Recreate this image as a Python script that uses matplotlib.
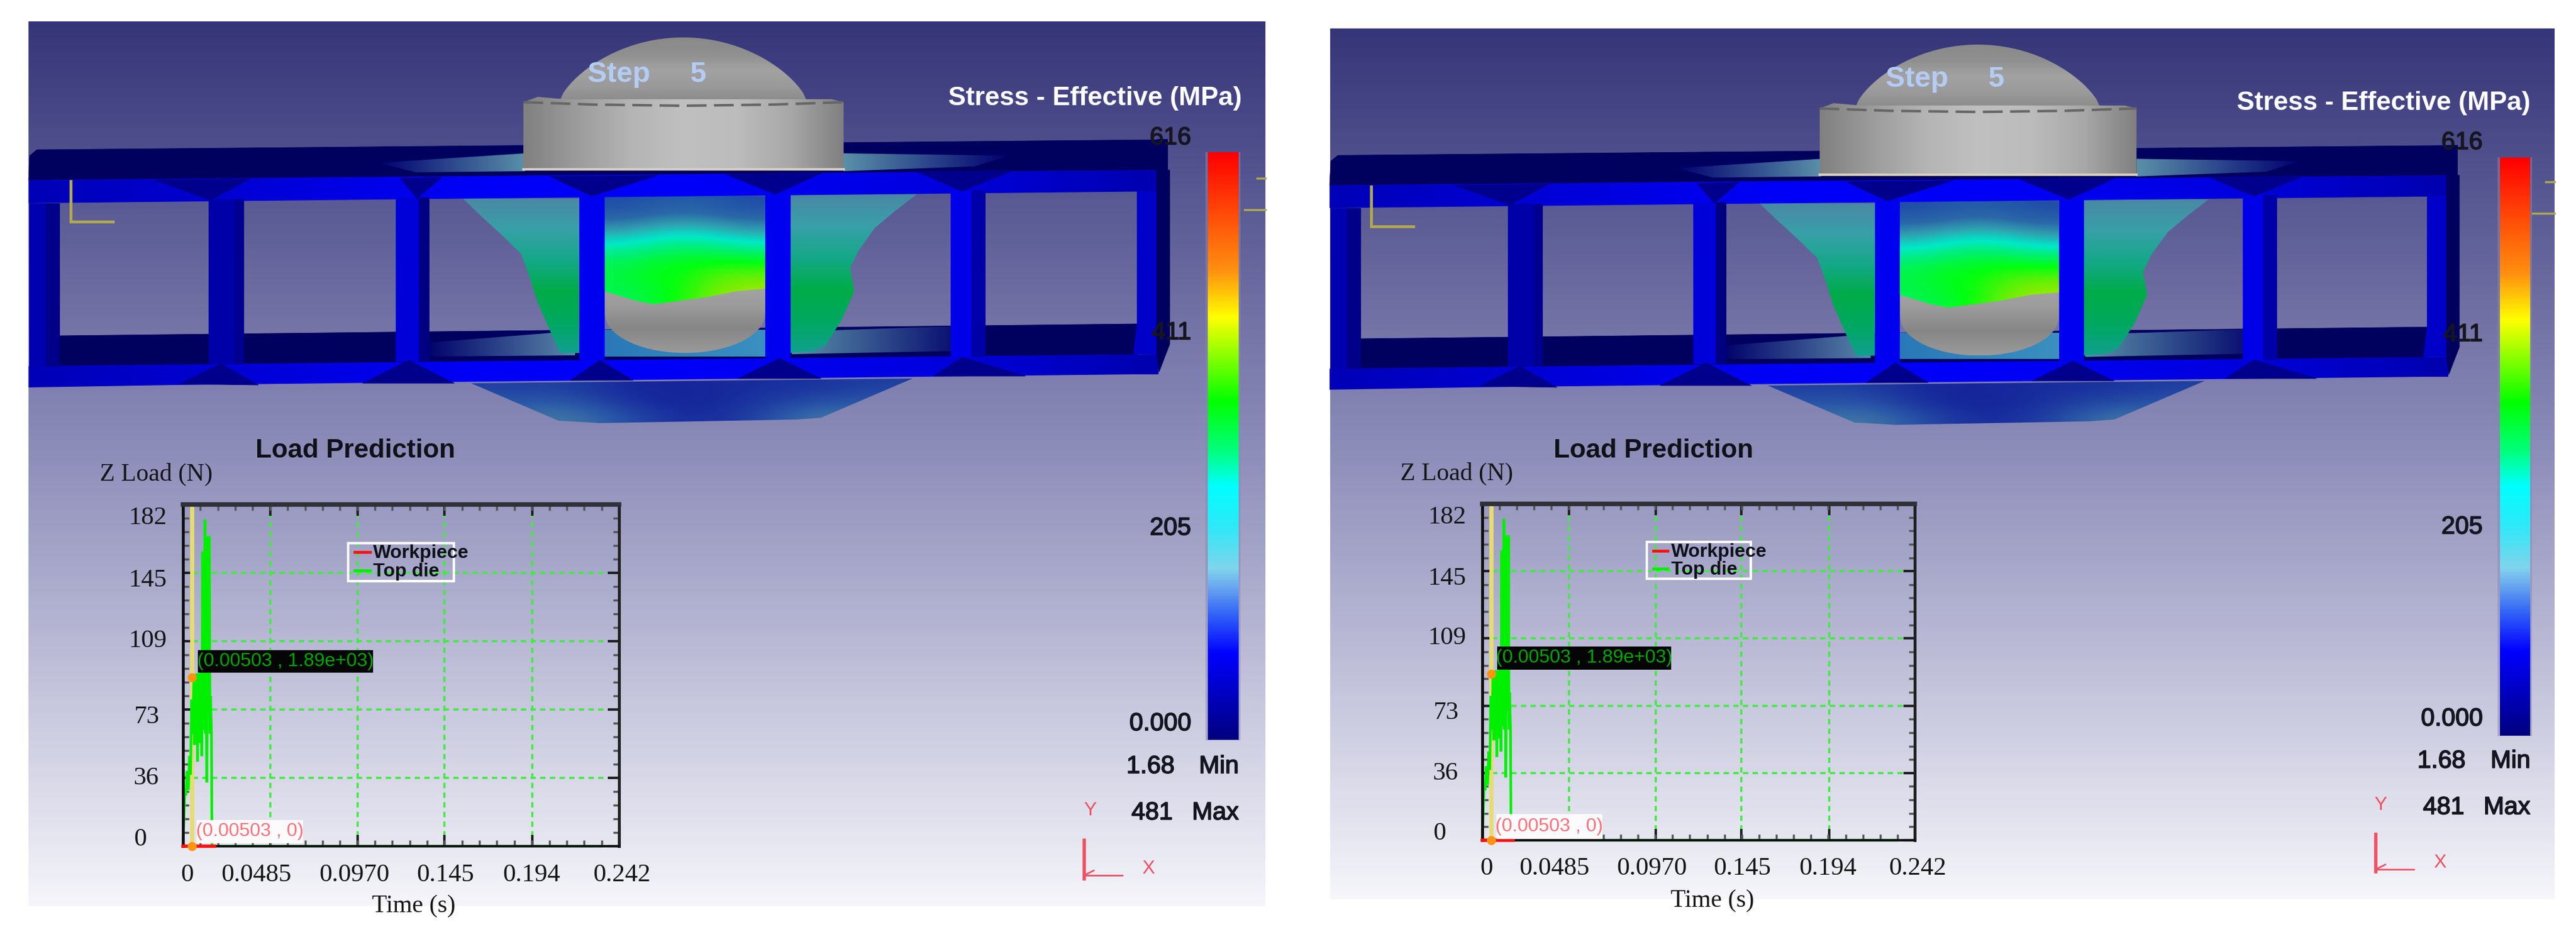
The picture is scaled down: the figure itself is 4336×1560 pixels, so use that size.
import numpy as np
import matplotlib
matplotlib.use('Agg')
import matplotlib.pyplot as plt
import matplotlib.patheffects as pe
from matplotlib.colors import LinearSegmentedColormap
from matplotlib.patches import Polygon, Rectangle
from matplotlib.transforms import ScaledTranslation

WIDTH, HEIGHT, DPI = 4336, 1560, 100

# load curve
time_s = [0, .0010, .0016, .0022, .0030, .0036, .0042, .0048, .0054, .0060,
          .0064, .0069, .0073, .0078, .0081, .0085, .0089, .0093, .0097, .0101,
          .0105, .0109, .0112, .0116, .0119, .0122, .0125, .0128, .0132, .0135,
          .0138, .0142, .0147, .0150, .0153, .0158, .0161, .0180, .232]
top_die_load = [0, 29, 27, 40, 30, 48, 38, 78, 60, 88,
                54, 90, 62, 92, 45, 88, 55, 92, 60, 95,
                48, 157, 62, 90, 70, 174, 60, 85, 34, 88,
                165, 70, 165, 60, 80, 60, 0, 0, 0]
workpiece_time = [0, .0174]
workpiece_load = [0, 0]
probe_time = 0.00503
probe_load = 90

x_ticks = [0, .0485, .097, .145, .194, .242]
x_labels = ['0', '0.0485', '0.0970', '0.145', '0.194', '0.242']
y_ticks = [0, 36.4, 72.8, 109.2, 145.6, 182]
y_labels = ['0', '36', '73', '109', '145', '182']

# labels sit off their ticks in the original, in pixels
x_nudge = [7, -24, -6, 2, -2, 5]
y_nudge = [-16, -4, 8, -5, 8, 18]
y_left = [-83, -83, -83, -92, -92, -92]

stress_ticks = ['616', '411', '205', '0.000']
min_value = '1.68'
max_value = '481'

stress_stops = [0, .145, .21, .26, .29, .36, .43, .49, .576, .72, .80, 1]
stress_colors = ['#000080', '#0000ff', '#3060f8', '#6aa8f0', '#80d4ec', '#30e8f8', '#00ffff',
                 '#00ff80', '#00ff00', '#ffff00', '#ff9010', '#ff0000']
stress_cmap = LinearSegmentedColormap.from_list('stress', list(zip(stress_stops, stress_colors)))

# the shaded model is duller than the bar
sheet_stops = [0, .25, .36, .46, .53, .60, .70, 1]
sheet_colors = ['#1a40a8', '#2a68a8', '#30a0b0', '#00e8c8', '#00f070', '#00ff10', '#a0e800', '#ffff00']
sheet_cmap = LinearSegmentedColormap.from_list('sheet', list(zip(sheet_stops, sheet_colors)))
bulge_cmap = LinearSegmentedColormap.from_list('bulge', ['#101a98', '#2a58a8', '#5a9aa0'])

# stress on the visible part of the sheet, top to bottom
sheet_stress = [[.08, .14, .18, .14, .08],
                [.26, .30, .33, .30, .26],
                [.40, .44, .46, .44, .40],
                [.50, .53, .55, .54, .52],
                [.56, .59, .60, .62, .62],
                [.56, .59, .61, .66, .68],
                [.55, .57, .62, .68, .70]]
bulge_stress = [[.30, .30, .10, .10, .15, .20, .30],
                [.45, .50, .15, .05, .20, .40, .50],
                [.60, .80, .40, .10, .30, .80, .60]]

panels = [
    dict(box=(48, 36, 2130, 1525), plot=(308, 849, 1042, 1424), bar=(2033, 256, 2085, 1245),
         scene=(1.0, 0.0, 1.0, 0.0), stress_title=(2090, 165), step=(989, 125),
         tick_x=2005, tick_y=[232, 560, 889, 1218], min_pos=(1977, 2085, 1290), max_pos=(1974, 2085, 1368),
         title=(598, 758), ylabel=(263, 798), xlabel=(696, 1525), xpad=49,
         legend=(586, 914, 764, 978), legend_text=(628, 931, 962), handle=(597, 623),
         tip=(333, 1094, 628, 1132), tag=(331, 1380, 510, 1419),
         triad=(1825, 1414, 1479, 1889, 1473), tri_y=(1835, 1364), tri_x=(1933, 1462),
         marks=((2116, 2130, 300), (2095, 2130, 353))),
    dict(box=(2239, 48, 4300, 1513), plot=(2495, 848, 3223, 1414), bar=(4208, 265, 4259, 1238),
         scene=(0.99, 2190.5, 0.986, 12.9), stress_title=(4259, 173), step=(3174, 134),
         tick_x=4179, tick_y=[240, 563, 887, 1210], min_pos=(4150, 4259, 1281), max_pos=(4148, 4259, 1359),
         title=(2783, 758), ylabel=(2452, 797), xlabel=(2882, 1516), xpad=48,
         legend=(2772, 912, 2947, 974), legend_text=(2813, 929, 959), handle=(2783, 2807),
         tip=(2520, 1088, 2813, 1127), tag=(2519, 1370, 2697, 1412),
         triad=(3999, 1404, 1467, 4063, 1463), tri_y=(4007, 1355), tri_x=(4107, 1452),
         marks=((4285, 4300, 306), (4263, 4300, 359))),
]

SANS = 'Liberation Sans'
SERIF = 'Liberation Serif'


def grad_fill(ax, pts, colors, horizontal=False, zorder=1, alpha=None):
    # gradient image clipped to a polygon
    pts = np.asarray(pts, dtype=float)
    cmap = LinearSegmentedColormap.from_list('g', colors)
    ramp = np.linspace(0, 1, 256)
    ramp = ramp[None, :] if horizontal else ramp[:, None]
    extent = (pts[:, 0].min(), pts[:, 0].max(), pts[:, 1].max(), pts[:, 1].min())
    im = ax.imshow(ramp, cmap=cmap, extent=extent, aspect='auto', origin='upper',
                   interpolation='bilinear', zorder=zorder, alpha=alpha)
    im.set_clip_path(Polygon(pts, transform=ax.transData))


def field_fill(ax, pts, field, cmap, zorder=1):
    pts = np.asarray(pts, dtype=float)
    extent = (pts[:, 0].min(), pts[:, 0].max(), pts[:, 1].max(), pts[:, 1].min())
    im = ax.imshow(np.array(field), cmap=cmap, vmin=0, vmax=1, extent=extent, aspect='auto', origin='upper',
                   interpolation='bicubic', zorder=zorder)
    im.set_clip_path(Polygon(pts, transform=ax.transData))


def draw_scene(ax, p):
    a, b, c, d = p['scene']

    def m(pts):
        return [(a * x + b, c * y + d) for x, y in pts]

    def flat(pts, color, z):
        ax.add_patch(Polygon(m(pts), closed=True, fc=color, ec=color, lw=0.5, zorder=z))

    # back of the tube
    flat([(48, 303), (50, 262), (62, 252), (1965, 235), (1965, 286)], '#00005f', 2)
    grad_fill(ax, m([(638, 274), (884, 258), (884, 288), (700, 290)]), ['#000070', '#5a90a8'], True, 3)
    grad_fill(ax, m([(1420, 258), (1698, 262), (1640, 280), (1420, 288)]), ['#5a90a8', '#000070'], True, 3)

    # punch, dome and barrel
    u = np.linspace(-1, 1, 60)
    dome = list(zip(1150 + 209 * u, 172 - 109 * (1 - u ** 2) ** 0.72))
    grad_fill(ax, m(dome), ['#8a8a8a', '#8f8f8f', '#a2a2a2', '#9a9a9a', '#8a8a8a'], False, 4)
    barrel = [(881, 172), (905, 163), (950, 167), (1400, 167), (1420, 172), (1420, 286), (881, 286)]
    grad_fill(ax, m(barrel), ['#808080', '#9c9c9c', '#b4b4b4', '#c0c0c0', '#bcbcbc', '#a8a8a8', '#808080'],
              True, 5)
    ax.plot(*zip(*m([(881, 172), (1000, 176), (1150, 178), (1300, 176), (1420, 172)])),
            color='#666666', lw=3, ls=(0, (8, 3)), zorder=6)
    ax.plot(*zip(*m([(881, 285), (1420, 285)])), color='#d8d0c0', lw=3, zorder=6)

    # far bottom bar
    flat([(100, 565), (1915, 545), (1915, 597), (100, 618)], '#00005f', 2)
    grad_fill(ax, m([(716, 577), (968, 557), (968, 598), (716, 600)]), ['#00006a', '#5a88a8'], True, 3)
    grad_fill(ax, m([(1333, 558), (1640, 548), (1640, 590), (1333, 596)]), ['#5a90a8', '#00006a'], True, 3)
    grad_fill(ax, m([(1017, 555), (1288, 555), (1288, 600), (1017, 600)]), ['#2a78b8', '#3a90c0'], True, 3)

    # lower part of the sphere
    t = np.linspace(0, np.pi, 30)
    sphere = [(1288, 470)] + list(zip(1153 + 135 * np.cos(t), 528 + 66 * np.sin(t))) + [(1017, 470)]
    grad_fill(ax, m(sphere), ['#a6a6a6', '#9c9c9c', '#868686', '#9a9a9a'], False, 4)

    # deformed sheet, side flanges then the centre
    left = [(779, 334), (975, 334), (975, 594), (943, 594), (926, 557), (905, 509), (891, 465),
            (877, 427), (842, 393), (807, 361)]
    right = [(1330, 328), (1543, 327), (1508, 354), (1473, 383), (1445, 422), (1431, 451), (1438, 490),
             (1417, 538), (1389, 582), (1368, 591), (1330, 594)]
    flange = ['#4a88a4', '#38a0a8', '#14a888', '#00ac48', '#00a860', '#10a090']
    grad_fill(ax, m(left), flange, False, 5)
    grad_fill(ax, m(right), flange, False, 5)
    centre = [(1017, 330), (1288, 330), (1288, 486), (1240, 490), (1190, 500), (1100, 512), (1070, 506), (1017, 490)]
    field_fill(ax, m(centre), sheet_stress, sheet_cmap, 6)

    # bulge under the tube
    bulge = [(793, 645), (1536, 637), (1382, 703), (1340, 706), (1010, 712), (940, 708)]
    field_fill(ax, m(bulge), bulge_stress, bulge_cmap, 5)

    # near side of the tube
    top_bar = [(48, 303), (1950, 286), (1950, 322), (48, 342)]
    low_bar = [(48, 616), (1950, 596), (1950, 630), (1905, 630), (290, 648), (48, 652)]
    colors = ['#0000b8', '#0000d8', '#0000f8', '#0000f8', '#0000e0', '#0000b0']
    grad_fill(ax, m(top_bar), colors, True, 7)
    grad_fill(ax, m(low_bar), colors, True, 7)
    flat([(49, 342), (77, 342), (77, 616), (49, 616)], '#0000b0', 7)
    flat([(77, 342), (100, 342), (100, 616), (77, 616)], '#000088', 7)
    flat([(351, 335), (395, 335), (395, 612), (351, 612)], '#0000a8', 7)
    flat([(395, 335), (410, 335), (410, 612), (395, 612)], '#000090', 7)
    flat([(666, 332), (705, 332), (705, 608), (666, 608)], '#0000d8', 7)
    flat([(705, 332), (722, 332), (722, 608), (705, 608)], '#000080', 7)
    flat([(975, 328), (1017, 328), (1017, 606), (975, 606)], '#0000f0', 7)
    flat([(1288, 325), (1330, 325), (1330, 604), (1288, 604)], '#0000f0', 7)
    flat([(1600, 320), (1635, 320), (1635, 600), (1600, 600)], '#0000e8', 7)
    flat([(1635, 320), (1658, 320), (1658, 600), (1635, 600)], '#0000a8', 7)
    flat([(1914, 322), (1950, 322), (1950, 596), (1908, 596), (1914, 545)], '#0000c8', 7)
    flat([(1947, 286), (1969, 286), (1969, 579), (1951, 626), (1947, 596)], '#00005f', 7)
    flat([(1947, 234), (1965, 234), (1965, 288), (1947, 288)], '#00005f', 7)

    # dark gussets where the posts meet the bars
    for tri in [[(260, 303), (421, 301), (354, 337)], [(673, 300), (744, 298), (702, 334)],
                [(926, 297), (1108, 295), (996, 330)], [(1221, 293), (1382, 292), (1305, 327)],
                [(1543, 289), (1705, 287), (1620, 322)], [(372, 612), (302, 646), (435, 648)],
                [(688, 606), (610, 645), (765, 645)], [(1010, 606), (1066, 640), (960, 640)],
                [(1312, 603), (1242, 637), (1382, 637)], [(1620, 601), (1571, 633), (1726, 633)]]:
        flat(tri, '#00008c', 8)

    # yellow triad left of the tube
    ax.plot(*zip(*m([(119, 305), (119, 373), (190, 373)])), color='#b0a850', lw=3.5, zorder=9,
            solid_joinstyle='miter')


def draw_panel(fig, ax_low, ax_top, p):
    x0, y0, x1, y1 = p['box']
    ramp = np.linspace(0, 1, 256)[:, None]
    bg = LinearSegmentedColormap.from_list('bg', ['#353579', '#9090bc', '#f5f5fa'])
    ax_low.imshow(ramp, cmap=bg, extent=(x0, x1, y1, y0), aspect='auto', origin='upper', zorder=0)

    draw_scene(ax_low, p)

    for xa, xb, y in p['marks']:
        ax_low.plot([xa, xb], [y, y], color='#b0a850', lw=2.5, zorder=9)

    # colour bar
    bx0, by0, bx1, by1 = p['bar']
    ax_low.add_patch(Rectangle((bx0 - 4, by0), bx1 - bx0 + 7, by1 - by0 + 1, fc='#8888b0', ec='none', alpha=.5, zorder=9))
    ax_low.imshow(np.linspace(1, 0, 256)[:, None], cmap=stress_cmap, vmin=0, vmax=1,
                  extent=(bx0, bx1, by1, by0), aspect='auto', origin='upper', zorder=10)

    bolder = [pe.withStroke(linewidth=1.2, foreground='#151520')]
    label = dict(family=SANS, fontsize=30, color='#151520', va='center', zorder=11, path_effects=bolder)
    for text, y in zip(stress_ticks, p['tick_y']):
        ax_low.text(p['tick_x'], y, text, ha='right', **label)
    ax_low.text(p['min_pos'][0], p['min_pos'][2], min_value, ha='right', **label)
    ax_low.text(p['min_pos'][1], p['min_pos'][2], 'Min', ha='right', **label)
    ax_low.text(p['max_pos'][0], p['max_pos'][2], max_value, ha='right', **label)
    ax_low.text(p['max_pos'][1], p['max_pos'][2], 'Max', ha='right', **label)

    ax_low.text(*p['stress_title'], 'Stress - Effective (MPa)', family=SANS, fontweight='bold', fontsize=32,
                color='white', ha='right', va='center', zorder=11)
    ax_low.text(*p['step'], 'Step     5', family=SANS, fontweight='bold', fontsize=35,
                color='#b4ccf4', ha='left', va='center', zorder=11)

    # red triad bottom right
    tx, ty0, ty1, tx1, ty2 = p['triad']
    ax_low.plot([tx, tx], [ty0, ty1], color='#f05060', lw=4, zorder=9)
    ax_low.plot([tx, tx1], [ty2, ty2], color='#f05060', lw=2, zorder=9)
    ax_low.plot([tx, tx + 16], [ty2, ty2 - 8], color='#f05060', lw=2, zorder=9)
    ax_low.text(*p['tri_y'], 'Y', family=SANS, fontsize=23, color='#f05060', ha='center', va='center', zorder=9)
    ax_low.text(*p['tri_x'], 'X', family=SANS, fontsize=23, color='#f05060', ha='center', va='center', zorder=9)

    # load chart
    l, t, r, b = p['plot']
    ax = fig.add_axes([l / WIDTH, 1 - b / HEIGHT, (r - l) / WIDTH, (b - t) / HEIGHT], zorder=1)
    ax.patch.set_alpha(0)
    ax.set_xlim(0, .242)
    ax.set_ylim(0, 182)
    ax.grid(True, color='#40ec40', linestyle=(0, (2.5, 2.0)), lw=2.6)
    ax.set_axisbelow(True)
    ax.axvline(probe_time, color='#e6dc70', lw=5, zorder=1.5)
    ax.plot(time_s, top_die_load, color='#00f000', lw=3.2, zorder=2, clip_on=False, solid_joinstyle='miter')
    ax.plot(workpiece_time, workpiece_load, color='#ff1010', lw=4, zorder=3, clip_on=False)
    ax.plot([probe_time, probe_time], [probe_load, 0], 'o', color='#ff9410', ms=11, mew=0, zorder=4, clip_on=False)
    ax.set_xticks(x_ticks, x_labels)
    ax.set_yticks(y_ticks, y_labels)
    ax.set_xticks(np.arange(1, 25) * .242 / 25, minor=True)
    ax.set_yticks(np.arange(1, 25) * 182 / 25, minor=True)
    ax.tick_params(which='major', direction='in', top=True, right=True, length=14, width=3, color='#202020',
                   labelsize=31, labelfontfamily=SERIF, labelcolor='#151515', pad=0)
    ax.tick_params(which='minor', direction='in', top=True, right=True, length=7, width=2.5, color='#555555')
    for name, w, col in [('left', 3.5, '#101010'), ('bottom', 3, '#101010'), ('right', 3.5, '#202020'), ('top', 5.5, '#303038')]:
        ax.spines[name].set_linewidth(w)
        ax.spines[name].set_color(col)

    # tick labels carry the original's offsets
    for tick, dx in zip(ax.xaxis.get_major_ticks(), x_nudge):
        shift = ScaledTranslation(dx / DPI, -p['xpad'] / DPI, fig.dpi_scale_trans)
        tick.label1.set_transform(ax.get_xaxis_transform() + shift)
        tick.label1.set_verticalalignment('center')
    for tick, dy, dx in zip(ax.yaxis.get_major_ticks(), y_nudge, y_left):
        shift = ScaledTranslation(dx / DPI, -dy / DPI, fig.dpi_scale_trans)
        tick.label1.set_transform(ax.get_yaxis_transform() + shift)
        tick.label1.set_horizontalalignment('left')

    # things that sit on top of the chart, in pixels
    ax_top.text(*p['title'], 'Load Prediction', family=SANS, fontweight='bold', fontsize=32, color='#101018',
                ha='center', va='center')
    ax_top.text(*p['ylabel'], 'Z Load (N)', family=SERIF, fontsize=30, color='#151515', ha='center', va='center')
    ax_top.text(*p['xlabel'], 'Time (s)', family=SERIF, fontsize=30, color='#151515', ha='center', va='center')

    lx0, ly0, lx1, ly1 = p['legend']
    ax_top.add_patch(Rectangle((lx0, ly0), lx1 - lx0, ly1 - ly0, fc='none', ec='white', lw=3))
    tx, ty_a, ty_b = p['legend_text']
    hx0, hx1 = p['handle']
    ax_top.plot([hx0, hx1], [ty_a - 2, ty_a - 2], color='#ff1010', lw=3.5)
    ax_top.plot([hx0, hx1], [ty_b - 2, ty_b - 2], color='#00f000', lw=3.5)
    ax_top.text(tx, ty_a, 'Workpiece', family=SANS, fontweight='bold', fontsize=23, color='#101018', va='center')
    ax_top.text(tx, ty_b, 'Top die', family=SANS, fontweight='bold', fontsize=23, color='#101018', va='center')

    tx0, ty0, tx1, ty1 = p['tip']
    ax_top.add_patch(Rectangle((tx0, ty0), tx1 - tx0, ty1 - ty0, fc='#050505', ec='none'))
    ax_top.text((tx0 + tx1) / 2, (ty0 + ty1) / 2, f'({probe_time:.5f} , 1.89e+03)', family=SANS, fontsize=23,
                color='#00a800', ha='center', va='center')
    tx0, ty0, tx1, ty1 = p['tag']
    ax_top.add_patch(Rectangle((tx0, ty0), tx1 - tx0, ty1 - ty0, fc='#fbfbfd', ec='none'))
    ax_top.text((tx0 + tx1) / 2, (ty0 + ty1) / 2, f'({probe_time:.5f} , 0)', family=SANS, fontsize=23,
                color='#ff7078', ha='center', va='center')


def main():
    fig = plt.figure(figsize=(WIDTH / DPI, HEIGHT / DPI), dpi=DPI, facecolor='white')

    ax_low = fig.add_axes([0, 0, 1, 1], zorder=0)
    ax_top = fig.add_axes([0, 0, 1, 1], zorder=2)
    ax_top.patch.set_alpha(0)

    for p in panels:
        draw_panel(fig, ax_low, ax_top, p)

    for a in (ax_low, ax_top):
        a.set_xlim(0, WIDTH)
        a.set_ylim(HEIGHT, 0)
        a.axis('off')

    fig.savefig('out.png', dpi=DPI)


if __name__ == '__main__':
    main()
